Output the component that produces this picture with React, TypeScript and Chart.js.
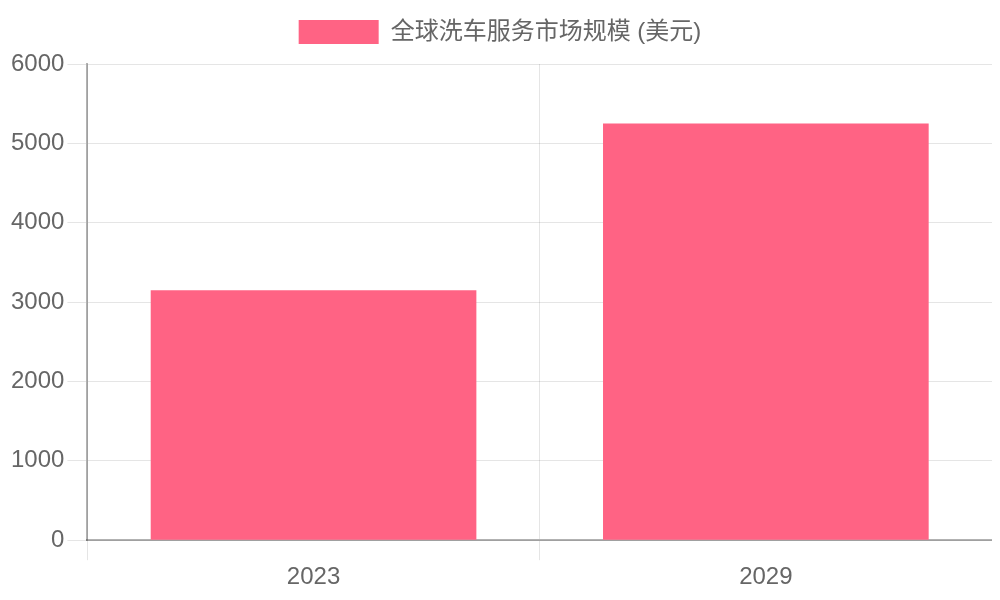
import React, { useEffect, useRef } from 'react';
import { Chart, registerables } from 'chart.js';

Chart.register(...registerables);

const years = ['2023', '2029'];
const marketSize = [3150, 5250];
const seriesLabel = '全球洗车服务市场规模 (美元)';

const FONT = "'Liberation Sans', Arial, 'Noto Sans CJK SC', sans-serif";

// a bit of extra room under the legend
const legendGap = {
    id: 'legendGap',
    beforeInit(chart: any) {
        const origFit = chart.legend.fit;
        chart.legend.fit = function fit() {
            origFit.bind(chart.legend)();
            this.height += 10;
        };
    },
};

const App: React.FC = () => {
    const canvasRef = useRef<HTMLCanvasElement | null>(null);

    useEffect(() => {
        if (!canvasRef.current) return;
        const chart = new Chart(canvasRef.current, {
            type: 'bar',
            data: {
                labels: years,
                datasets: [
                    {
                        label: seriesLabel,
                        data: marketSize,
                        backgroundColor: 'rgb(255, 99, 132)',
                        borderWidth: 0,
                    },
                ],
            },
            options: {
                responsive: true,
                maintainAspectRatio: false,
                animation: false,
                plugins: {
                    legend: {
                        labels: {
                            boxWidth: 80,
                            color: '#666',
                            padding: 12,
                            font: { family: FONT, size: 24 },
                        },
                    },
                    tooltip: { enabled: false },
                },
                scales: {
                    x: {
                        grid: { color: 'rgba(0,0,0,0.1)', tickLength: 20 },
                        border: { color: 'rgba(0,0,0,0.3)', width: 2 },
                        ticks: { color: '#666', font: { family: FONT, size: 24 } },
                    },
                    y: {
                        beginAtZero: true,
                        max: 6000,
                        grid: { color: 'rgba(0,0,0,0.1)', tickLength: 20 },
                        border: { color: 'rgba(0,0,0,0.3)', width: 2 },
                        ticks: {
                            color: '#666',
                            stepSize: 1000,
                            font: { family: FONT, size: 24 },
                            callback: (v: any) => String(v),
                        },
                    },
                },
            },
            plugins: [legendGap],
        });
        return () => chart.destroy();
    }, []);

    return (
        <div style={{ position: 'relative', height: '587px' }}>
            <canvas ref={canvasRef}></canvas>
        </div>
    );
};

export default App;
